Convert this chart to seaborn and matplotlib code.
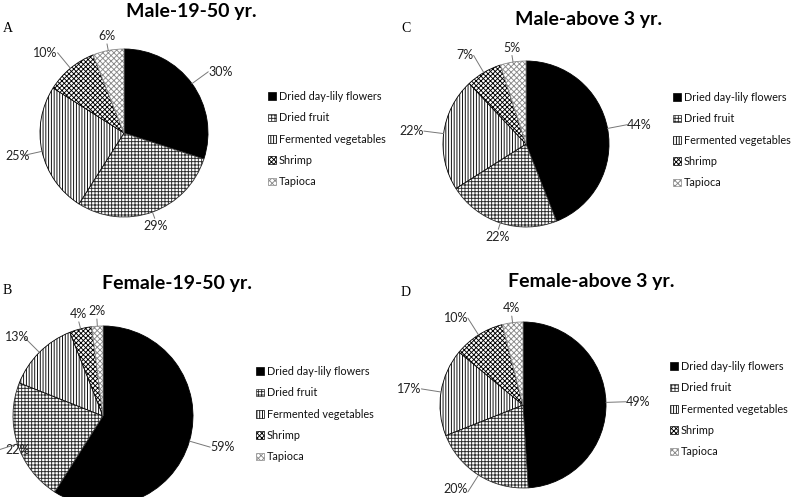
import matplotlib
matplotlib.use("Agg")
import matplotlib.pyplot as plt
from matplotlib.patches import Patch
import numpy as np
import seaborn as sns

# Food source shares (%) per group
categories = ["Dried day-lily flowers", "Dried fruit", "Fermented vegetables", "Shrimp", "Tapioca"]
male_19_50 = [30, 29, 25, 10, 6]
male_above_3 = [44, 22, 22, 7, 5]
female_19_50 = [59, 22, 13, 4, 2]
female_above_3 = [49, 20, 17, 10, 4]

titles = ["Male-19-50 yr.", "Male-above 3 yr.", "Female-19-50 yr.", "Female-above 3 yr."]
letters = ["A", "C", "B", "D"]

sns.set_theme(style="white")
plt.rcParams['font.family'] = ['Lato', 'DejaVu Sans']
plt.rcParams['hatch.linewidth'] = 0.65

faces = ["black", "white", "white", "white", "white"]
edges = ["black", "#2a2a2a", "black", "black", "#8a8a8a"]
hatches = ["", "+" * 5, "|" * 6, "x" * 7, "x" * 6]

W, H = 791, 497
fig = plt.figure(figsize=(W / 100, H / 100), dpi=100)

# (center x, center y, radius) in pixels, title center, letter pos, legend anchor
panels = [
    (male_19_50, (124, 133, 84), (191, 12), (3, 28), (268, 91)),
    (male_above_3, (526, 144, 83), (589, 20), (401, 28), (673, 92)),
    (female_19_50, (103, 416, 90), (177, 283), (3, 290), (256, 366)),
    (female_above_3, (523, 405, 83), (591, 282), (401, 293), (670, 361)),
]

labels = []
for i, (vals, (cx, cy, r), tpos, lpos, legpos) in enumerate(panels):
    ax = fig.add_axes([(cx - r) / W, (H - cy - r) / H, 2 * r / W, 2 * r / H])
    wedges, _ = ax.pie(vals, startangle=90, counterclock=False, colors=faces,
                       hatch=hatches, wedgeprops=dict(linewidth=0.6))
    for w, ec in zip(wedges, edges):
        w.set_edgecolor(ec)
    ax.set_xlim(-1, 1)
    ax.set_ylim(-1, 1)
    ax.set_aspect("auto")
    ax.axis("off")

    # outside percentage labels with leader lines
    for w, v in zip(wedges, vals):
        ang = np.deg2rad((w.theta1 + w.theta2) / 2)
        c, s = np.cos(ang), np.sin(ang)
        if abs(c) < 0.35:
            ax.plot([c, 1.08 * c], [s, 1.08 * s], color="#777777", lw=0.7, clip_on=False)
            t = ax.text(1.1 * c, 1.1 * s, f"{v}%", ha="center",
                        va="bottom" if s > 0 else "top", fontsize=9, color="#222222")
        else:
            tx, ty = 1.24 * c, 1.24 * s
            ax.plot([c, 1.12 * c, tx], [s, 1.12 * s, ty], color="#777777", lw=0.7,
                    clip_on=False)
            t = ax.text(tx, ty, f"{v}%", ha="left" if c > 0 else "right", va="center",
                        fontsize=9, color="#222222")
        labels.append((ax, t))

    fig.text(tpos[0] / W, 1 - tpos[1] / H, titles[i], ha="center", va="center",
             fontsize=14, fontweight="bold", color="black")
    fig.text(lpos[0] / W, 1 - lpos[1] / H, letters[i], ha="left", va="center",
             fontsize=10, family="Liberation Serif", color="black")

    handles = [Patch(facecolor=f, edgecolor=e, hatch=h, linewidth=0.5)
               for f, e, h in zip(faces, edges, hatches)]
    fig.legend(handles, categories, loc="upper left",
               bbox_to_anchor=(legpos[0] / W, 1 - legpos[1] / H),
               frameon=False, fontsize=7.8, handlelength=0.7, handleheight=0.7,
               handletextpad=0.3, labelspacing=0.95, borderpad=0, borderaxespad=0,
               labelcolor="#111111")

# keep labels inside the figure
fig.canvas.draw()
renderer = fig.canvas.get_renderer()
for ax, t in labels:
    bb = t.get_window_extent(renderer)
    if bb.x0 < 5:
        disp = ax.transData.transform(t.get_position()) + np.array([5 - bb.x0, 0])
        t.set_position(ax.transData.inverted().transform(disp))
    if bb.y0 < 2:
        disp = ax.transData.transform(t.get_position()) + np.array([0, 2 - bb.y0])
        t.set_position(ax.transData.inverted().transform(disp))

fig.savefig("out.png", dpi=100, facecolor="white")
